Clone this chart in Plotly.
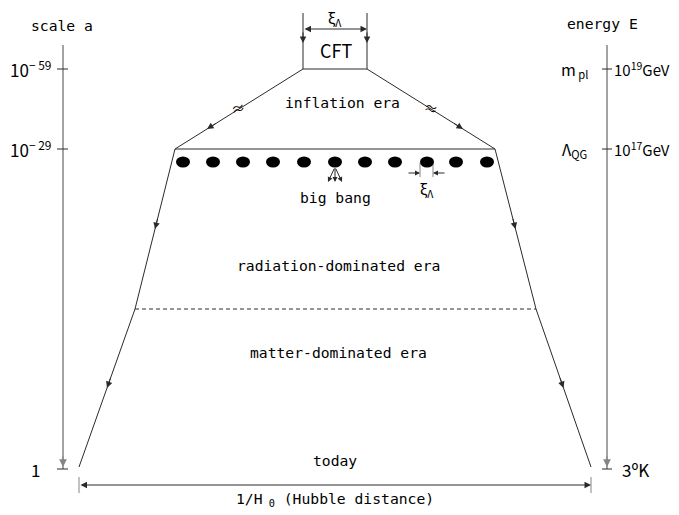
import plotly.graph_objects as go

# ---- diagram data (pixel-space coordinates of the schematic) ----
ERA_LABELS = ["inflation era", "big bang", "radiation-dominated era", "matter-dominated era", "today"]
ERA_X = [342, 335, 338, 338, 335]
ERA_Y = [102, 197, 265, 352, 460]

SCALE_TICK_LABELS = ["10<sup>− 59</sup>", "10<sup>− 29</sup>", "1"]
ENERGY_TICK_LABELS = ["10<sup>19</sup>GeV", "10<sup>17</sup>GeV", "3ºK"]
ENERGY_LABEL_X = [612, 612, 620]
ENERGY_LABEL_SIZE = [15, 15, 17]
ENERGY_NAMES = ["m<sub> pl</sub>", "Λ<sub>QG</sub>", ""]
TICK_Y = [69, 149, 469]

EDGE_Y = [69, 149, 309, 467]
LEFT_EDGE_X = [303, 175, 135, 79]
RIGHT_EDGE_X = [367, 495, 536, 591]

DOT_X = [183, 213, 243, 273, 304, 335, 365, 395, 427, 456, 487]
DOT_Y = 162

FONT = "DejaVu Sans Mono, Liberation Mono, monospace"
FONT2 = "Noto Sans CJK JP, Noto Sans, DejaVu Sans, sans-serif"
LINE_C = "#2a2a2a"
AXIS_C = "#858585"

# page body has an 8px margin; shift the view so schematic pixels land in place
OFF = 8
W, H = 679, 515

fig = go.Figure()


def seg(xs, ys, color=LINE_C, width=1.0, dash=None):
    fig.add_trace(go.Scatter(x=xs, y=ys, mode="lines", hoverinfo="skip",
                             line=dict(color=color, width=width, dash=dash), showlegend=False))


def arrow(x0, y0, x1, y1, side="end", color=LINE_C, size=1.3, width=1.0, head=2):
    fig.add_annotation(x=x1, y=y1, ax=x0, ay=y0, xref="x", yref="y", axref="x", ayref="y",
                       text="", showarrow=True, arrowhead=head, arrowsize=size, arrowwidth=width,
                       arrowcolor=color, arrowside=side, startarrowhead=head, startarrowsize=size,
                       standoff=0, startstandoff=0)


def text(x, y, s, size=14.7, anchor="center", angle=0, family=FONT):
    fig.add_annotation(x=x, y=y, xref="x", yref="y", text=s, showarrow=False,
                       xanchor=anchor, yanchor="middle", textangle=angle,
                       font=dict(family=family, size=size, color="#000"))


def mid_arrow(xs, ys, i, t):
    x0, y0, x1, y1 = xs[i], ys[i], xs[i + 1], ys[i + 1]
    hx, hy = x0 + (x1 - x0) * t, y0 + (y1 - y0) * t
    L = ((x1 - x0) ** 2 + (y1 - y0) ** 2) ** 0.5
    tx, ty = hx - (x1 - x0) / L * 12, hy - (y1 - y0) / L * 12
    arrow(tx, ty, hx, hy)


# funnel outline
seg(LEFT_EDGE_X, EDGE_Y)
seg(RIGHT_EDGE_X, EDGE_Y)
seg([LEFT_EDGE_X[1], RIGHT_EDGE_X[1]], [EDGE_Y[1], EDGE_Y[1]])
seg([LEFT_EDGE_X[2], RIGHT_EDGE_X[2]], [EDGE_Y[2], EDGE_Y[2]], dash="4px,3px")

# arrows along the edges
mid_arrow(LEFT_EDGE_X, EDGE_Y, 0, 0.75)
mid_arrow(RIGHT_EDGE_X, EDGE_Y, 0, 0.75)
mid_arrow(LEFT_EDGE_X, EDGE_Y, 1, 0.50)
mid_arrow(RIGHT_EDGE_X, EDGE_Y, 1, 0.50)
mid_arrow(LEFT_EDGE_X, EDGE_Y, 2, 0.50)
mid_arrow(RIGHT_EDGE_X, EDGE_Y, 2, 0.50)

# break marks
text(238, 108, "≈", size=14, angle=-15, family=FONT2)
text(431, 108, "≈", size=14, angle=15, family=FONT2)

# CFT box
seg([LEFT_EDGE_X[0], LEFT_EDGE_X[0]], [13, EDGE_Y[0]])
seg([RIGHT_EDGE_X[0], RIGHT_EDGE_X[0]], [13, EDGE_Y[0]])
seg([LEFT_EDGE_X[0], RIGHT_EDGE_X[0]], [EDGE_Y[0], EDGE_Y[0]])
arrow(LEFT_EDGE_X[0], 31, LEFT_EDGE_X[0], 43)
arrow(RIGHT_EDGE_X[0], 31, RIGHT_EDGE_X[0], 43)
arrow(LEFT_EDGE_X[0], 29, RIGHT_EDGE_X[0], 29, side="end+start")
text(335, 18, "ξ<sub>Λ</sub>", size=15, family=FONT2)
text(336, 50, "CFT", size=18, family=FONT2)

# big-bang dots
for dx in DOT_X:
    fig.add_shape(type="circle", xref="x", yref="y", x0=dx - 7, x1=dx + 7,
                  y0=DOT_Y - 5.5, y1=DOT_Y + 5.5, fillcolor="black", line=dict(width=0))

# arrows from central dot
bx = DOT_X[5]
for ex in (-7, 0, 7):
    arrow(bx, 167, bx + ex, 182, size=1.0)

# xi measure around one dot
mx = DOT_X[8]
seg([mx - 7, mx - 7], [163, 177], color=AXIS_C)
seg([mx + 6, mx + 6], [163, 177], color=AXIS_C)
arrow(mx - 20, 173, mx - 7, 173, size=1.0)
arrow(mx + 19, 173, mx + 6, 173, size=1.0)
text(mx, 189, "ξ<sub>Λ</sub>", size=15, family=FONT2)

# era labels
for lx, ly, s in zip(ERA_X, ERA_Y, ERA_LABELS):
    text(lx, ly, s, size=14.7)

# left axis (scale a)
seg([63, 63], [45, 469], color=AXIS_C, width=1.5)
arrow(63, 455, 63, 467, color=AXIS_C, width=1.2)
text(62, 25, "scale a", size=14.7)
for ty, s in zip(TICK_Y, SCALE_TICK_LABELS):
    seg([57, 68], [ty, ty], color=LINE_C)
    text(53 if s != "1" else 42, ty, s, size=17, anchor="right", family=FONT2)

# right axis (energy E)
seg([607, 607], [45, 469], color=AXIS_C, width=1.5)
arrow(607, 455, 607, 467, color=AXIS_C, width=1.2)
text(602, 23, "energy E", size=14.7)
for ty, s, n, lx, fs in zip(TICK_Y, ENERGY_TICK_LABELS, ENERGY_NAMES, ENERGY_LABEL_X, ENERGY_LABEL_SIZE):
    seg([602, 612], [ty, ty], color=LINE_C)
    text(lx, ty, s, size=fs, anchor="left", family=FONT2)
    if n:
        text(574, ty, n, size=16, family=FONT2)

# Hubble distance
seg([LEFT_EDGE_X[3], LEFT_EDGE_X[3]], [477, 493], color=AXIS_C)
seg([RIGHT_EDGE_X[3], RIGHT_EDGE_X[3]], [477, 493], color=AXIS_C)
arrow(LEFT_EDGE_X[3], 485, RIGHT_EDGE_X[3], 485, side="end+start")
text(335, 499, "1/H<sub> 0</sub> (Hubble distance)", size=14.7)

fig.update_layout(
    width=W - OFF, height=H - OFF, margin=dict(l=0, r=0, t=0, b=0),
    paper_bgcolor="white", plot_bgcolor="white",
    xaxis=dict(range=[OFF, W], visible=False, fixedrange=True),
    yaxis=dict(range=[H, OFF], visible=False, fixedrange=True),
    showlegend=False,
)
fig.write_html("out.html")
